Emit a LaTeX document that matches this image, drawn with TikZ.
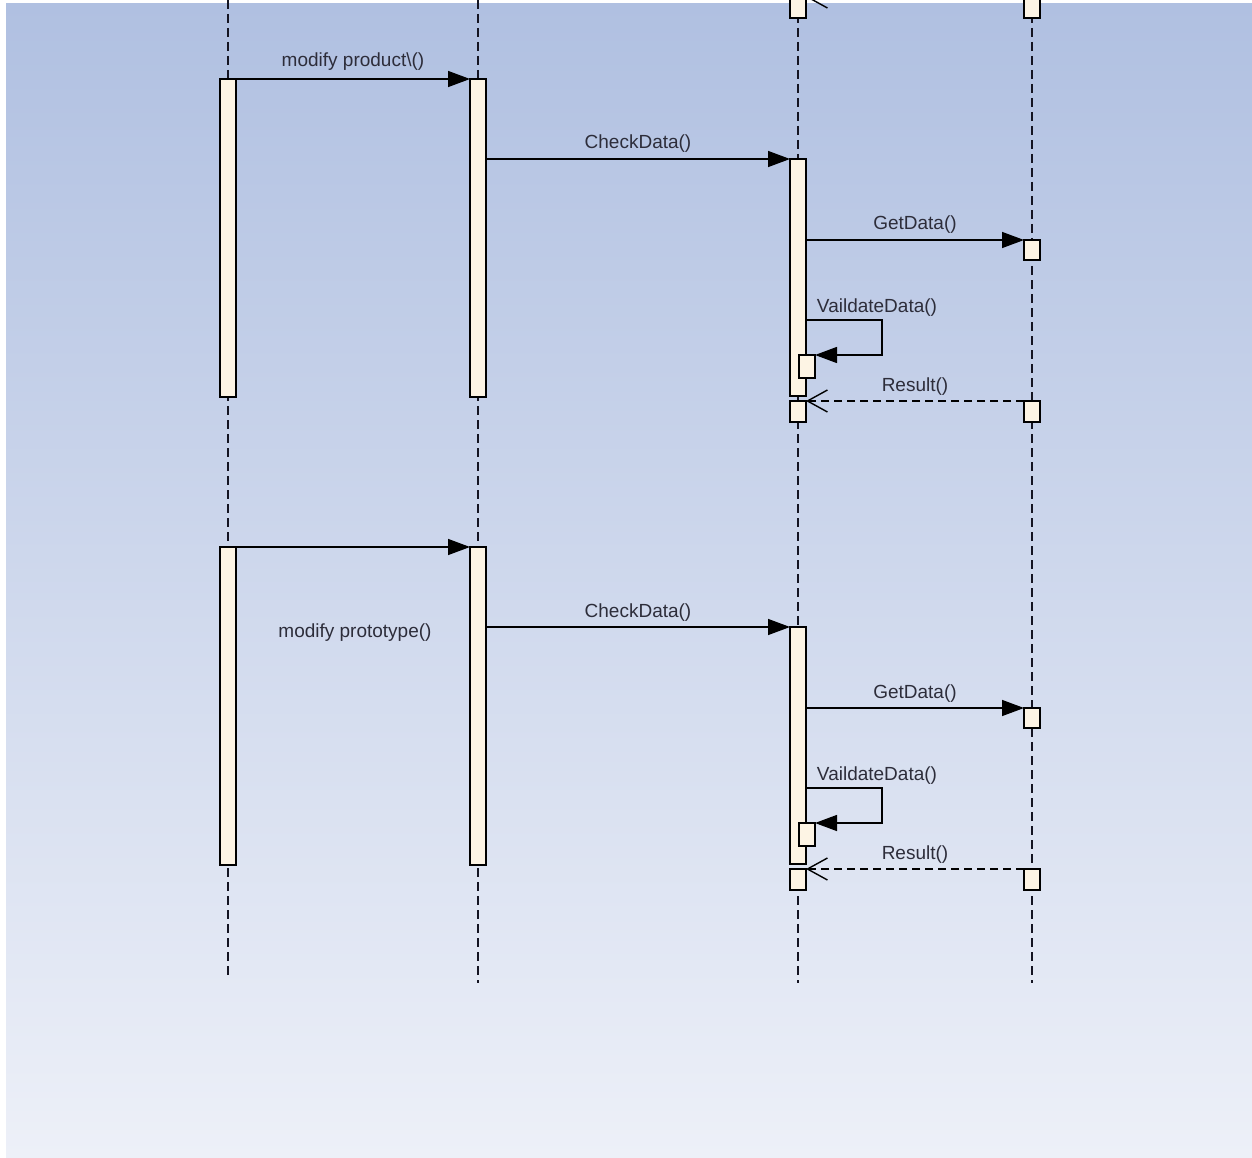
\documentclass[tikz,border=0pt]{standalone}
\usepackage{fontspec}
\setmainfont{Liberation Sans}
\usetikzlibrary{arrows.meta,calc}
\definecolor{bgtop}{RGB}{176,192,225}
\definecolor{bgbot}{RGB}{237,240,248}
\definecolor{cream}{RGB}{253,244,228}
\definecolor{ink}{RGB}{20,20,34}
\definecolor{txt}{RGB}{45,45,58}
\tikzset{
  lifeline/.style={draw=ink, line width=1.4pt, dash pattern=on 9pt off 5pt},
  actbar/.style={draw=black, fill=cream, line width=1.4pt, minimum width=16pt,
    inner sep=0pt, outer sep=0pt, anchor=north},
  msg/.style={draw=black, line width=1.4pt, -{Triangle[length=22pt,width=16pt]}},
  ret/.style={draw=black, line width=1.4pt, dash pattern=on 8pt off 5pt,
    -{Straight Barb[length=20pt,width=22pt]}},
  lbl/.style={font=\fontsize{19}{21}\selectfont, text=txt, inner sep=0pt, anchor=base},
}
\begin{document}
\begin{tikzpicture}[x=1pt,y=-1pt]
\useasboundingbox (0,0) rectangle (1252,1158);
\fill[white] (0,0) rectangle (1252,1158);
\shade[top color=bgtop, bottom color=bgbot] (6,4) rectangle (1252,1158);
\clip (0,0) rectangle (1252,1158);
% lifelines
\coordinate (L1t) at (228,0);  \coordinate (L1b) at (228,978);
\coordinate (L2t) at (478,0);  \coordinate (L2b) at (478,983);
\coordinate (L3t) at (798,0);  \coordinate (L3b) at (798,983);
\coordinate (L4t) at (1032,0); \coordinate (L4b) at (1032,983);
\draw[lifeline] (L1t) -- (L1b);
\draw[lifeline] (L2t) -- (L2b);
\draw[lifeline] (L3t) -- (L3b);
\draw[lifeline] (L4t) -- (L4b);
% fragments at the top
\node[actbar, minimum height=24pt] (c0) at (798,-6) {};
\node[actbar, minimum height=24pt] (d0) at (1032,-6) {};
\draw[ret] ([yshift=-3pt]d0.north west) -- ([yshift=-3pt]c0.north east);
% two repeated interactions
\foreach \k/\dy in {1/0, 2/468}{
  \node[actbar, minimum height=318pt] (a\k) at (228,{79+\dy}) {};
  \node[actbar, minimum height=318pt] (b\k) at (478,{79+\dy}) {};
  \node[actbar, minimum height=237pt] (c\k) at (798,{159+\dy}) {};
  \node[actbar, minimum height=23pt]  (s\k) at (807,{355+\dy}) {};
  \node[actbar, minimum height=21pt]  (r\k) at (798,{401+\dy}) {};
  \node[actbar, minimum height=20pt]  (g\k) at (1032,{240+\dy}) {};
  \node[actbar, minimum height=21pt]  (q\k) at (1032,{401+\dy}) {};
  \draw[msg] (a\k.north east) -- (b\k.north west);
  \draw[msg] (b\k.east |- c\k.north) -- (c\k.north west);
  \draw[msg] (c\k.east |- g\k.north) -- (g\k.north west);
  \draw[msg] ($(c\k.east |- s\k.north)+(0,-35)$) -- ++(76,0) |- (s\k.north east);
  \draw[ret] (q\k.north west) -- (r\k.north east);
  \node[lbl] (cd\k) at ($(b\k.east |- c\k.north)!0.5!(c\k.north west)+(0,-10)$) {CheckData()};
  \node[lbl] (gd\k) at ($(c\k.east |- g\k.north)!0.5!(g\k.north west)+(0,-10)$) {GetData()};
  \node[lbl] (vd\k) at ($(c\k.east |- s\k.north)+(71,-43)$) {VaildateData()};
  \node[lbl] (rs\k) at ($(q\k.north west)!0.5!(r\k.north east)+(0,-10)$) {Result()};
}
\node[lbl] (mp1) at ($(a1.north east)!0.5!(b1.north west)+(0,-12)$) {modify product\textbackslash()};
\node[lbl, anchor=center] (mp2) at (355,633) {modify prototype()};
\end{tikzpicture}
\end{document}
